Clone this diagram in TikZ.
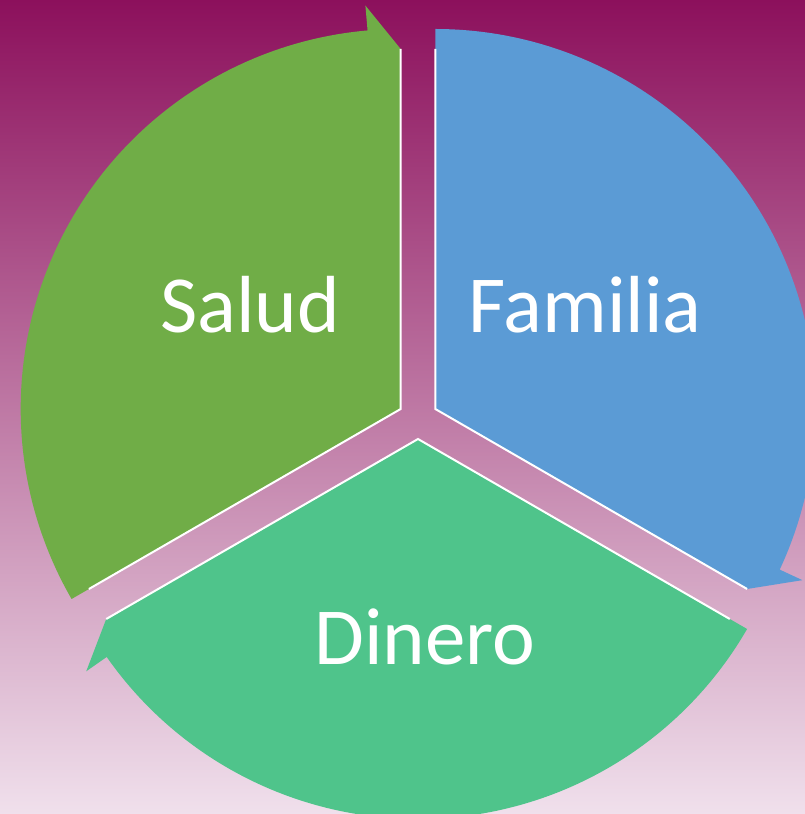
\documentclass[tikz,border=0pt]{standalone}
\usepackage{fontspec}
\setmainfont{Carlito}
\definecolor{fondoalto}{RGB}{140,16,92}
\definecolor{fondomedio}{RGB}{190,115,160}
\definecolor{fondobajo}{RGB}{240,224,236}
\definecolor{verdesalud}{RGB}{112,173,71}
\definecolor{azulfamilia}{RGB}{91,155,213}
\definecolor{verdedinero}{RGB}{79,196,139}

% settore con freccia: angolo del bordo in senso orario, colore
\newcommand{\settore}[2]{%
	\begin{scope}[shift={(centro)}, shift={(#1+60:20)}]
		\fill[#2] (0,0) -- (#1:360) -- (#1+5:405) -- (#1+5:380)
			arc[start angle=#1+5, end angle=#1+120, radius=380] -- cycle;
		\draw[bordo] (#1:360) -- (0,0) -- (#1+120:360);
	\end{scope}}

\begin{document}
\begin{tikzpicture}[x=1pt, y=1pt,
		bordo/.style={white, line width=2pt},
		etichetta/.style={white, anchor=base, inner sep=0pt, font=\fontsize{81}{90}\selectfont}]
	\useasboundingbox (0,0) rectangle (805,814);
	\clip (0,0) rectangle (805,814);
	\shade[top color=fondoalto, middle color=fondomedio, bottom color=fondobajo] (0,0) rectangle (805,814); % sfondo

	\coordinate (centro) at (418,395);

	\settore{-30}{azulfamilia} % Familia
	\settore{90}{verdesalud} % Salud
	\settore{210}{verdedinero} % Dinero

	\node[etichetta] (salud) at (250,481) {Salud};
	\node[etichetta] (familia) at (585,481) {Familia};
	\node[etichetta] (dinero) at (425,149) {Dinero};
\end{tikzpicture}
\end{document}
